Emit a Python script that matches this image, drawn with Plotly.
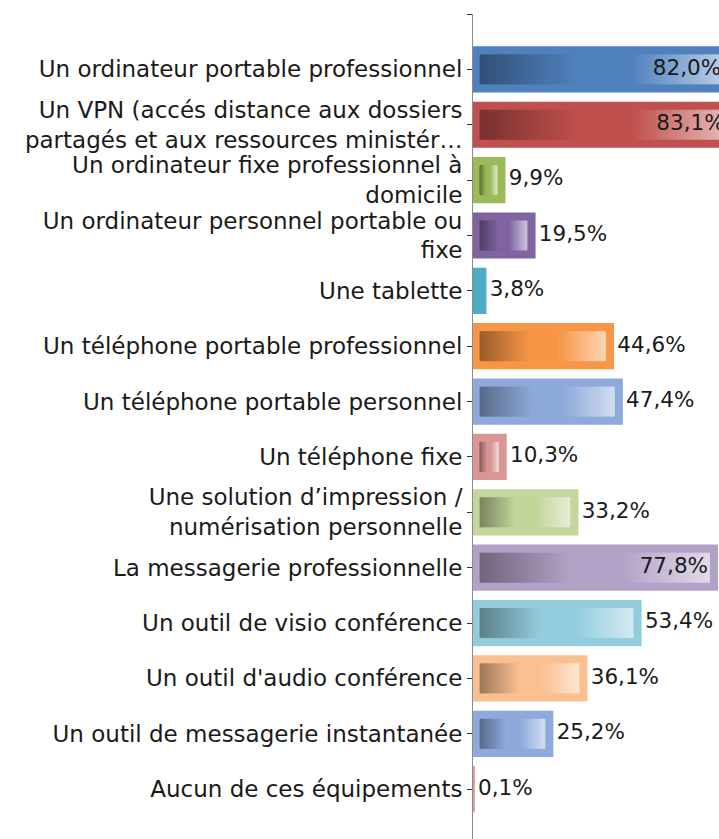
import plotly.graph_objects as go

# équipements mis à disposition (part des répondants, %)
categories = [
    "Un ordinateur portable professionnel",
    "Un VPN (accés distance aux dossiers<br>partagés et aux ressources ministér…",
    "Un ordinateur fixe professionnel à<br>domicile",
    "Un ordinateur personnel portable ou<br>fixe",
    "Une tablette",
    "Un téléphone portable professionnel",
    "Un téléphone portable personnel",
    "Un téléphone fixe",
    "Une solution d’impression /<br>numérisation personnelle",
    "La messagerie professionnelle",
    "Un outil de visio conférence",
    "Un outil d'audio conférence",
    "Un outil de messagerie instantanée",
    "Aucun de ces équipements",
]
values = [82.0, 83.1, 9.9, 19.5, 3.8, 44.6, 47.4, 10.3, 33.2, 77.8, 53.4, 36.1, 25.2, 0.1]

bar_colors = [
    "#4F81BD", "#C0504D", "#9BBB59", "#8064A2", "#4BACC6", "#F79646", "#8EAADB",
    "#D99694", "#C3D69B", "#B3A2C7", "#93CDDD", "#FAC090", "#8EAADB", "#D99694",
]

FONT = "DejaVu Sans"
PX_PER_UNIT = 3.13          # pixels per % on the value axis
INSET = 7 / PX_PER_UNIT     # border of the bars, in %
BAR_W = 0.78
INNER_W = BAR_W - 2 * 7 / 55.37
N_SLICES = 60


def hex_rgb(h):
    h = h.lstrip("#")
    return [int(h[i:i + 2], 16) for i in (0, 2, 4)]


def mix(c, other, k):
    return [c[i] + (other[i] - c[i]) * k for i in range(3)]


def grad(base, t):
    c = hex_rgb(base)
    dark = mix(c, [0, 0, 0], 0.38)
    light = mix(c, [255, 255, 255], 0.6)
    stops = [(0.0, dark), (0.4, c), (0.62, c), (1.0, light)]
    for (t0, c0), (t1, c1) in zip(stops, stops[1:]):
        if t <= t1:
            k = (t - t0) / (t1 - t0)
            r = mix(c0, c1, k)
            return "rgb(%d,%d,%d)" % tuple(round(v) for v in r)
    return "rgb(%d,%d,%d)" % tuple(round(v) for v in stops[-1][1])


ypos = list(range(len(categories)))

fig = go.Figure()

# bars with their plain border colour
fig.add_trace(go.Bar(
    x=values, y=ypos, orientation="h", width=BAR_W,
    marker=dict(color=bar_colors, line=dict(color=bar_colors, width=3)),
    hoverinfo="skip", showlegend=False,
))

# inner gradient, drawn as thin slices
for j in range(N_SLICES):
    xs, bases, cols, ys = [], [], [], []
    for i, v in enumerate(values):
        inner = v - 2 * INSET
        if inner <= 0:
            continue
        xs.append(inner / N_SLICES)
        bases.append(INSET + inner * j / N_SLICES)
        cols.append(grad(bar_colors[i], (j + 0.5) / N_SLICES))
        ys.append(i)
    fig.add_trace(go.Bar(
        x=xs, y=ys, base=bases, orientation="h", width=INNER_W,
        marker=dict(color=cols, line=dict(color=cols, width=0.8)),
        hoverinfo="skip", showlegend=False,
    ))

labels = [("%.1f" % v).replace(".", ",") + "%" for v in values]
inside = [v > 70 for v in values]

fig.add_trace(go.Scatter(
    x=values, y=ypos, mode="markers+text", text=labels,
    textposition=["middle left" if k else "middle right" for k in inside],
    marker=dict(size=[12 if k else 6 for k in inside], opacity=0),
    textfont=dict(family=FONT, size=21.5, color="#1a1a1a"),
    hoverinfo="skip", showlegend=False,
))

fig.update_layout(
    width=719, height=839,
    margin=dict(l=473, r=0, t=14, b=0),
    plot_bgcolor="white", paper_bgcolor="white",
    barmode="overlay",
    font=dict(family=FONT, size=23, color="#1a1a1a"),
    xaxis=dict(range=[0, 246 / PX_PER_UNIT], visible=False, fixedrange=True),
    yaxis=dict(
        range=[13.9, -1],
        tickmode="array",
        tickvals=[-1] + ypos,
        ticktext=[""] + categories,
        ticks="outside", ticklen=5, tickcolor="#333333", tickwidth=1,
        showline=True, linecolor="#8c8c8c", linewidth=1,
        showgrid=False, zeroline=False, fixedrange=True,
        tickfont=dict(family=FONT, size=23, color="#1a1a1a"),
    ),
)

# no page margin, so the figure fills the window exactly
fig.write_html(
    "out.html",
    config={"displayModeBar": False},
    post_script="document.body.style.margin='0';document.body.style.overflow='hidden';",
)
